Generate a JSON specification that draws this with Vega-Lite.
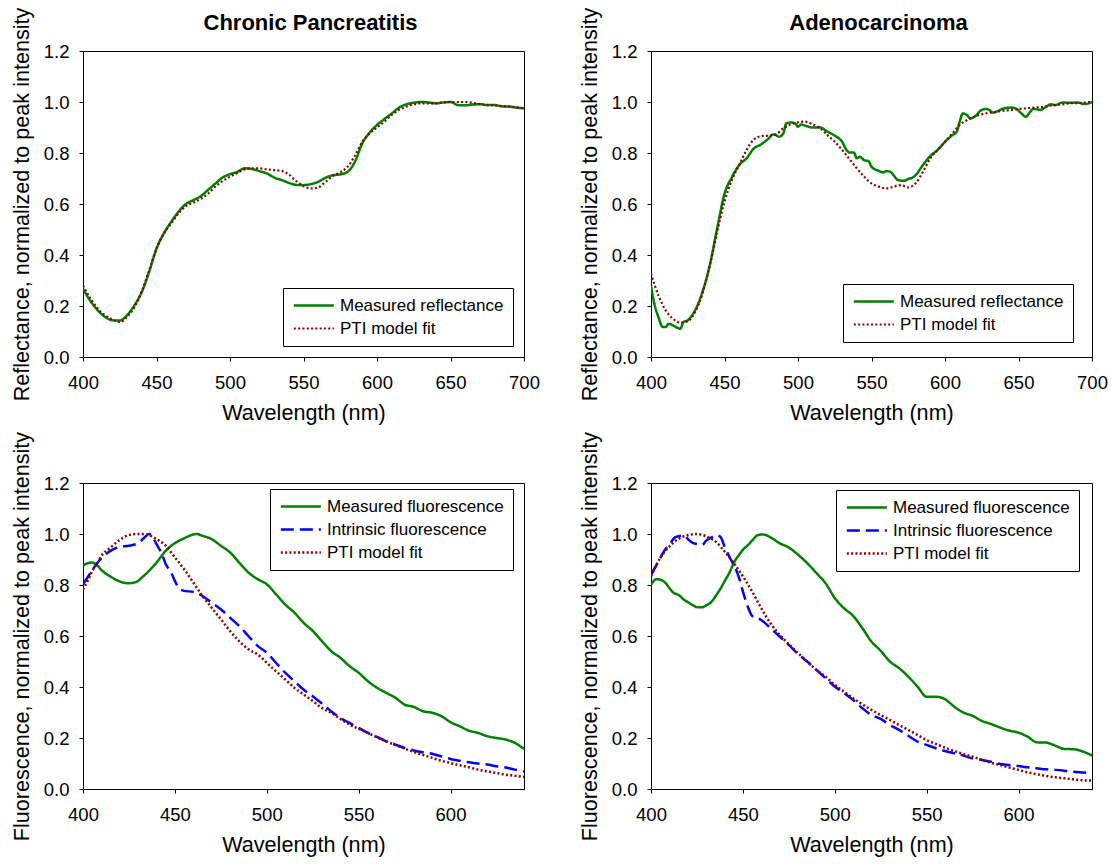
{
  "$schema": "https://vega.github.io/schema/vega-lite/v6.json",
  "padding": {"left": 10, "top": 6, "right": 0, "bottom": 3},
  "background": "white",
  "config": {
    "font": "Liberation Sans",
    "view": {"stroke": "black", "strokeWidth": 1},
    "axis": {"grid": false, "domainColor": "black", "tickColor": "black", "tickSize": 4, "labelColor": "black", "labelFontSize": 18.5, "labelFont": "Liberation Sans", "titleFont": "Liberation Sans", "titleFontSize": 21.6, "titleFontWeight": "normal", "titleColor": "black", "labelFlush": false, "labelOverlap": false, "labelPadding": 12, "titlePadding": 11},
    "axisY": {"titlePadding": 10, "labelPadding": 10, "titleFontSize": 21.6},
    "title": {"fontSize": 22, "font": "Liberation Sans", "fontWeight": "bold", "color": "black", "offset": -28, "dx": 7, "frame": "group"},
    "legend": {"labelFont": "Liberation Sans", "labelFontSize": 17, "labelColor": "black", "labelLimit": 400, "strokeColor": "black", "fillColor": "white", "padding": 9, "symbolType": "M-1,0H5", "symbolSize": 178, "labelOffset": 31, "rowPadding": 5}
  },
  "datasets": {
    "cpR": [
      {"s":"M","w":400,"v":0.268},{"s":"M","w":405,"v":0.22},{"s":"M","w":410,"v":0.183},{"s":"M","w":415,"v":0.157},{"s":"M","w":420,"v":0.144},{"s":"M","w":425,"v":0.143},{"s":"M","w":430,"v":0.164},{"s":"M","w":435,"v":0.203},{"s":"M","w":440,"v":0.255},{"s":"M","w":445,"v":0.334},{"s":"M","w":450,"v":0.425},{"s":"M","w":455,"v":0.485},{"s":"M","w":460,"v":0.53},{"s":"M","w":465,"v":0.57},{"s":"M","w":470,"v":0.6},{"s":"M","w":475,"v":0.615},{"s":"M","w":480,"v":0.63},{"s":"M","w":485,"v":0.655},{"s":"M","w":490,"v":0.68},{"s":"M","w":495,"v":0.704},{"s":"M","w":500,"v":0.717},{"s":"M","w":505,"v":0.726},{"s":"M","w":510,"v":0.74},{"s":"M","w":515,"v":0.737},{"s":"M","w":520,"v":0.729},{"s":"M","w":525,"v":0.72},{"s":"M","w":530,"v":0.704},{"s":"M","w":535,"v":0.694},{"s":"M","w":540,"v":0.683},{"s":"M","w":545,"v":0.675},{"s":"M","w":550,"v":0.674},{"s":"M","w":555,"v":0.678},{"s":"M","w":560,"v":0.687},{"s":"M","w":565,"v":0.703},{"s":"M","w":570,"v":0.713},{"s":"M","w":575,"v":0.716},{"s":"M","w":580,"v":0.726},{"s":"M","w":585,"v":0.766},{"s":"M","w":590,"v":0.838},{"s":"M","w":595,"v":0.88},{"s":"M","w":600,"v":0.91},{"s":"M","w":605,"v":0.933},{"s":"M","w":610,"v":0.955},{"s":"M","w":615,"v":0.978},{"s":"M","w":620,"v":0.991},{"s":"M","w":625,"v":0.997},{"s":"M","w":630,"v":1.0},{"s":"M","w":635,"v":0.998},{"s":"M","w":640,"v":0.995},{"s":"M","w":645,"v":0.998},{"s":"M","w":650,"v":1.0},{"s":"M","w":655,"v":0.988},{"s":"M","w":660,"v":0.987},{"s":"M","w":665,"v":0.99},{"s":"M","w":670,"v":0.991},{"s":"M","w":675,"v":0.988},{"s":"M","w":680,"v":0.988},{"s":"M","w":685,"v":0.983},{"s":"M","w":690,"v":0.982},{"s":"M","w":695,"v":0.978},{"s":"M","w":700,"v":0.975},
      {"s":"P","w":400,"v":0.28},{"s":"P","w":405,"v":0.23},{"s":"P","w":410,"v":0.19},{"s":"P","w":415,"v":0.164},{"s":"P","w":420,"v":0.148},{"s":"P","w":425,"v":0.137},{"s":"P","w":430,"v":0.157},{"s":"P","w":435,"v":0.196},{"s":"P","w":440,"v":0.258},{"s":"P","w":445,"v":0.34},{"s":"P","w":450,"v":0.425},{"s":"P","w":455,"v":0.484},{"s":"P","w":460,"v":0.524},{"s":"P","w":465,"v":0.563},{"s":"P","w":470,"v":0.592},{"s":"P","w":475,"v":0.605},{"s":"P","w":480,"v":0.62},{"s":"P","w":485,"v":0.64},{"s":"P","w":490,"v":0.668},{"s":"P","w":495,"v":0.69},{"s":"P","w":500,"v":0.707},{"s":"P","w":505,"v":0.722},{"s":"P","w":510,"v":0.736},{"s":"P","w":515,"v":0.74},{"s":"P","w":520,"v":0.74},{"s":"P","w":525,"v":0.736},{"s":"P","w":530,"v":0.733},{"s":"P","w":535,"v":0.73},{"s":"P","w":540,"v":0.716},{"s":"P","w":545,"v":0.69},{"s":"P","w":550,"v":0.67},{"s":"P","w":555,"v":0.661},{"s":"P","w":560,"v":0.665},{"s":"P","w":565,"v":0.687},{"s":"P","w":570,"v":0.71},{"s":"P","w":575,"v":0.724},{"s":"P","w":580,"v":0.746},{"s":"P","w":585,"v":0.79},{"s":"P","w":590,"v":0.844},{"s":"P","w":595,"v":0.877},{"s":"P","w":600,"v":0.9},{"s":"P","w":605,"v":0.923},{"s":"P","w":610,"v":0.949},{"s":"P","w":615,"v":0.969},{"s":"P","w":620,"v":0.982},{"s":"P","w":625,"v":0.991},{"s":"P","w":630,"v":0.995},{"s":"P","w":635,"v":0.995},{"s":"P","w":640,"v":0.995},{"s":"P","w":645,"v":0.998},{"s":"P","w":650,"v":1.0},{"s":"P","w":655,"v":1.0},{"s":"P","w":660,"v":1.0},{"s":"P","w":665,"v":0.997},{"s":"P","w":670,"v":0.992},{"s":"P","w":675,"v":0.988},{"s":"P","w":680,"v":0.987},{"s":"P","w":685,"v":0.984},{"s":"P","w":690,"v":0.982},{"s":"P","w":695,"v":0.979},{"s":"P","w":700,"v":0.975}
    ],
    "adR": [
      {"s":"M","w":400,"v":0.28},{"s":"M","w":402,"v":0.216},{"s":"M","w":405,"v":0.157},{"s":"M","w":408,"v":0.118},{"s":"M","w":410,"v":0.118},{"s":"M","w":412,"v":0.13},{"s":"M","w":415,"v":0.124},{"s":"M","w":418,"v":0.114},{"s":"M","w":420,"v":0.111},{"s":"M","w":422,"v":0.137},{"s":"M","w":425,"v":0.144},{"s":"M","w":428,"v":0.164},{"s":"M","w":430,"v":0.183},{"s":"M","w":435,"v":0.255},{"s":"M","w":440,"v":0.36},{"s":"M","w":445,"v":0.504},{"s":"M","w":450,"v":0.64},{"s":"M","w":455,"v":0.705},{"s":"M","w":460,"v":0.753},{"s":"M","w":465,"v":0.779},{"s":"M","w":470,"v":0.818},{"s":"M","w":475,"v":0.834},{"s":"M","w":480,"v":0.857},{"s":"M","w":483,"v":0.873},{"s":"M","w":485,"v":0.87},{"s":"M","w":487,"v":0.864},{"s":"M","w":490,"v":0.877},{"s":"M","w":492,"v":0.916},{"s":"M","w":495,"v":0.92},{"s":"M","w":498,"v":0.916},{"s":"M","w":500,"v":0.903},{"s":"M","w":502,"v":0.912},{"s":"M","w":505,"v":0.907},{"s":"M","w":510,"v":0.9},{"s":"M","w":515,"v":0.9},{"s":"M","w":520,"v":0.884},{"s":"M","w":525,"v":0.868},{"s":"M","w":530,"v":0.844},{"s":"M","w":533,"v":0.812},{"s":"M","w":535,"v":0.802},{"s":"M","w":538,"v":0.802},{"s":"M","w":540,"v":0.779},{"s":"M","w":542,"v":0.785},{"s":"M","w":545,"v":0.772},{"s":"M","w":548,"v":0.768},{"s":"M","w":550,"v":0.746},{"s":"M","w":555,"v":0.73},{"s":"M","w":558,"v":0.724},{"s":"M","w":560,"v":0.729},{"s":"M","w":563,"v":0.726},{"s":"M","w":565,"v":0.713},{"s":"M","w":568,"v":0.694},{"s":"M","w":572,"v":0.691},{"s":"M","w":575,"v":0.698},{"s":"M","w":578,"v":0.704},{"s":"M","w":580,"v":0.713},{"s":"M","w":585,"v":0.753},{"s":"M","w":590,"v":0.788},{"s":"M","w":595,"v":0.812},{"s":"M","w":600,"v":0.844},{"s":"M","w":605,"v":0.87},{"s":"M","w":608,"v":0.884},{"s":"M","w":610,"v":0.923},{"s":"M","w":612,"v":0.955},{"s":"M","w":615,"v":0.949},{"s":"M","w":617,"v":0.936},{"s":"M","w":620,"v":0.942},{"s":"M","w":625,"v":0.969},{"s":"M","w":628,"v":0.973},{"s":"M","w":630,"v":0.969},{"s":"M","w":633,"v":0.958},{"s":"M","w":635,"v":0.962},{"s":"M","w":640,"v":0.975},{"s":"M","w":645,"v":0.978},{"s":"M","w":648,"v":0.975},{"s":"M","w":652,"v":0.955},{"s":"M","w":655,"v":0.942},{"s":"M","w":658,"v":0.962},{"s":"M","w":660,"v":0.973},{"s":"M","w":665,"v":0.969},{"s":"M","w":668,"v":0.978},{"s":"M","w":672,"v":0.991},{"s":"M","w":675,"v":0.988},{"s":"M","w":680,"v":0.998},{"s":"M","w":685,"v":0.997},{"s":"M","w":690,"v":0.998},{"s":"M","w":695,"v":0.992},{"s":"M","w":700,"v":1.0},
      {"s":"P","w":400,"v":0.327},{"s":"P","w":405,"v":0.242},{"s":"P","w":410,"v":0.183},{"s":"P","w":415,"v":0.15},{"s":"P","w":420,"v":0.135},{"s":"P","w":425,"v":0.14},{"s":"P","w":430,"v":0.177},{"s":"P","w":435,"v":0.249},{"s":"P","w":440,"v":0.36},{"s":"P","w":445,"v":0.491},{"s":"P","w":450,"v":0.609},{"s":"P","w":455,"v":0.694},{"s":"P","w":460,"v":0.753},{"s":"P","w":465,"v":0.812},{"s":"P","w":470,"v":0.853},{"s":"P","w":475,"v":0.866},{"s":"P","w":480,"v":0.868},{"s":"P","w":485,"v":0.873},{"s":"P","w":490,"v":0.897},{"s":"P","w":495,"v":0.912},{"s":"P","w":500,"v":0.92},{"s":"P","w":505,"v":0.923},{"s":"P","w":510,"v":0.912},{"s":"P","w":515,"v":0.897},{"s":"P","w":520,"v":0.87},{"s":"P","w":525,"v":0.844},{"s":"P","w":530,"v":0.812},{"s":"P","w":535,"v":0.776},{"s":"P","w":540,"v":0.74},{"s":"P","w":545,"v":0.707},{"s":"P","w":550,"v":0.681},{"s":"P","w":555,"v":0.668},{"s":"P","w":560,"v":0.661},{"s":"P","w":565,"v":0.668},{"s":"P","w":570,"v":0.674},{"s":"P","w":575,"v":0.665},{"s":"P","w":580,"v":0.681},{"s":"P","w":585,"v":0.726},{"s":"P","w":590,"v":0.779},{"s":"P","w":595,"v":0.812},{"s":"P","w":600,"v":0.844},{"s":"P","w":605,"v":0.877},{"s":"P","w":610,"v":0.91},{"s":"P","w":615,"v":0.929},{"s":"P","w":620,"v":0.942},{"s":"P","w":625,"v":0.952},{"s":"P","w":630,"v":0.958},{"s":"P","w":635,"v":0.962},{"s":"P","w":640,"v":0.966},{"s":"P","w":645,"v":0.969},{"s":"P","w":650,"v":0.973},{"s":"P","w":655,"v":0.975},{"s":"P","w":660,"v":0.978},{"s":"P","w":665,"v":0.98},{"s":"P","w":670,"v":0.984},{"s":"P","w":675,"v":0.988},{"s":"P","w":680,"v":0.991},{"s":"P","w":685,"v":0.995},{"s":"P","w":690,"v":0.996},{"s":"P","w":695,"v":0.998},{"s":"P","w":700,"v":1.0}
    ],
    "cpF": [
      {"s":"M","w":400,"v":0.875},{"s":"M","w":402,"v":0.884},{"s":"M","w":405,"v":0.888},{"s":"M","w":408,"v":0.875},{"s":"M","w":410,"v":0.859},{"s":"M","w":415,"v":0.833},{"s":"M","w":420,"v":0.814},{"s":"M","w":423,"v":0.808},{"s":"M","w":425,"v":0.807},{"s":"M","w":428,"v":0.81},{"s":"M","w":430,"v":0.816},{"s":"M","w":432,"v":0.829},{"s":"M","w":435,"v":0.849},{"s":"M","w":440,"v":0.888},{"s":"M","w":445,"v":0.934},{"s":"M","w":450,"v":0.964},{"s":"M","w":455,"v":0.983},{"s":"M","w":460,"v":0.998},{"s":"M","w":462,"v":1.0},{"s":"M","w":465,"v":0.993},{"s":"M","w":470,"v":0.98},{"s":"M","w":475,"v":0.954},{"s":"M","w":480,"v":0.928},{"s":"M","w":485,"v":0.888},{"s":"M","w":490,"v":0.849},{"s":"M","w":495,"v":0.823},{"s":"M","w":500,"v":0.803},{"s":"M","w":505,"v":0.764},{"s":"M","w":510,"v":0.724},{"s":"M","w":515,"v":0.692},{"s":"M","w":520,"v":0.652},{"s":"M","w":525,"v":0.62},{"s":"M","w":530,"v":0.58},{"s":"M","w":535,"v":0.541},{"s":"M","w":540,"v":0.515},{"s":"M","w":545,"v":0.482},{"s":"M","w":550,"v":0.456},{"s":"M","w":555,"v":0.423},{"s":"M","w":560,"v":0.397},{"s":"M","w":565,"v":0.377},{"s":"M","w":570,"v":0.358},{"s":"M","w":575,"v":0.331},{"s":"M","w":580,"v":0.322},{"s":"M","w":585,"v":0.305},{"s":"M","w":590,"v":0.299},{"s":"M","w":595,"v":0.286},{"s":"M","w":600,"v":0.262},{"s":"M","w":605,"v":0.246},{"s":"M","w":610,"v":0.229},{"s":"M","w":615,"v":0.22},{"s":"M","w":620,"v":0.207},{"s":"M","w":625,"v":0.2},{"s":"M","w":630,"v":0.194},{"s":"M","w":635,"v":0.181},{"s":"M","w":640,"v":0.157},
      {"s":"I","w":400,"v":0.803},{"s":"I","w":403,"v":0.836},{"s":"I","w":405,"v":0.858},{"s":"I","w":408,"v":0.888},{"s":"I","w":410,"v":0.905},{"s":"I","w":415,"v":0.934},{"s":"I","w":420,"v":0.95},{"s":"I","w":425,"v":0.954},{"s":"I","w":430,"v":0.964},{"s":"I","w":433,"v":0.983},{"s":"I","w":436,"v":1.0},{"s":"I","w":438,"v":0.986},{"s":"I","w":440,"v":0.96},{"s":"I","w":443,"v":0.921},{"s":"I","w":445,"v":0.882},{"s":"I","w":448,"v":0.849},{"s":"I","w":450,"v":0.816},{"s":"I","w":452,"v":0.79},{"s":"I","w":455,"v":0.777},{"s":"I","w":460,"v":0.773},{"s":"I","w":465,"v":0.757},{"s":"I","w":470,"v":0.731},{"s":"I","w":475,"v":0.705},{"s":"I","w":480,"v":0.672},{"s":"I","w":485,"v":0.639},{"s":"I","w":490,"v":0.6},{"s":"I","w":495,"v":0.561},{"s":"I","w":500,"v":0.535},{"s":"I","w":505,"v":0.495},{"s":"I","w":510,"v":0.456},{"s":"I","w":515,"v":0.423},{"s":"I","w":520,"v":0.39},{"s":"I","w":525,"v":0.364},{"s":"I","w":530,"v":0.335},{"s":"I","w":535,"v":0.305},{"s":"I","w":540,"v":0.279},{"s":"I","w":545,"v":0.259},{"s":"I","w":550,"v":0.24},{"s":"I","w":555,"v":0.22},{"s":"I","w":560,"v":0.204},{"s":"I","w":565,"v":0.187},{"s":"I","w":570,"v":0.174},{"s":"I","w":575,"v":0.161},{"s":"I","w":580,"v":0.151},{"s":"I","w":585,"v":0.144},{"s":"I","w":590,"v":0.138},{"s":"I","w":595,"v":0.128},{"s":"I","w":600,"v":0.118},{"s":"I","w":605,"v":0.111},{"s":"I","w":610,"v":0.105},{"s":"I","w":615,"v":0.1},{"s":"I","w":620,"v":0.096},{"s":"I","w":625,"v":0.089},{"s":"I","w":630,"v":0.084},{"s":"I","w":635,"v":0.076},{"s":"I","w":640,"v":0.069},
      {"s":"P","w":400,"v":0.783},{"s":"P","w":403,"v":0.823},{"s":"P","w":405,"v":0.855},{"s":"P","w":408,"v":0.888},{"s":"P","w":410,"v":0.914},{"s":"P","w":415,"v":0.947},{"s":"P","w":420,"v":0.977},{"s":"P","w":425,"v":0.996},{"s":"P","w":430,"v":1.0},{"s":"P","w":435,"v":0.997},{"s":"P","w":440,"v":0.98},{"s":"P","w":445,"v":0.954},{"s":"P","w":450,"v":0.908},{"s":"P","w":455,"v":0.862},{"s":"P","w":460,"v":0.81},{"s":"P","w":465,"v":0.757},{"s":"P","w":470,"v":0.711},{"s":"P","w":475,"v":0.666},{"s":"P","w":480,"v":0.62},{"s":"P","w":485,"v":0.58},{"s":"P","w":490,"v":0.548},{"s":"P","w":495,"v":0.528},{"s":"P","w":500,"v":0.495},{"s":"P","w":505,"v":0.462},{"s":"P","w":510,"v":0.43},{"s":"P","w":515,"v":0.397},{"s":"P","w":520,"v":0.371},{"s":"P","w":525,"v":0.345},{"s":"P","w":530,"v":0.318},{"s":"P","w":535,"v":0.299},{"s":"P","w":540,"v":0.275},{"s":"P","w":545,"v":0.253},{"s":"P","w":550,"v":0.236},{"s":"P","w":555,"v":0.22},{"s":"P","w":560,"v":0.203},{"s":"P","w":565,"v":0.187},{"s":"P","w":570,"v":0.172},{"s":"P","w":575,"v":0.159},{"s":"P","w":580,"v":0.145},{"s":"P","w":585,"v":0.134},{"s":"P","w":590,"v":0.122},{"s":"P","w":595,"v":0.111},{"s":"P","w":600,"v":0.102},{"s":"P","w":605,"v":0.093},{"s":"P","w":610,"v":0.085},{"s":"P","w":615,"v":0.076},{"s":"P","w":620,"v":0.069},{"s":"P","w":625,"v":0.063},{"s":"P","w":630,"v":0.056},{"s":"P","w":635,"v":0.052},{"s":"P","w":640,"v":0.047}
    ],
    "adF": [
      {"s":"M","w":400,"v":0.801},{"s":"M","w":403,"v":0.823},{"s":"M","w":405,"v":0.821},{"s":"M","w":408,"v":0.807},{"s":"M","w":410,"v":0.788},{"s":"M","w":412,"v":0.771},{"s":"M","w":415,"v":0.761},{"s":"M","w":418,"v":0.742},{"s":"M","w":420,"v":0.733},{"s":"M","w":423,"v":0.72},{"s":"M","w":425,"v":0.713},{"s":"M","w":428,"v":0.713},{"s":"M","w":430,"v":0.72},{"s":"M","w":433,"v":0.735},{"s":"M","w":435,"v":0.755},{"s":"M","w":438,"v":0.788},{"s":"M","w":440,"v":0.814},{"s":"M","w":443,"v":0.853},{"s":"M","w":445,"v":0.886},{"s":"M","w":448,"v":0.919},{"s":"M","w":450,"v":0.938},{"s":"M","w":453,"v":0.958},{"s":"M","w":455,"v":0.974},{"s":"M","w":458,"v":0.995},{"s":"M","w":460,"v":0.998},{"s":"M","w":462,"v":0.997},{"s":"M","w":465,"v":0.987},{"s":"M","w":470,"v":0.964},{"s":"M","w":475,"v":0.947},{"s":"M","w":480,"v":0.919},{"s":"M","w":485,"v":0.886},{"s":"M","w":490,"v":0.847},{"s":"M","w":495,"v":0.807},{"s":"M","w":500,"v":0.749},{"s":"M","w":505,"v":0.709},{"s":"M","w":510,"v":0.679},{"s":"M","w":515,"v":0.631},{"s":"M","w":520,"v":0.578},{"s":"M","w":525,"v":0.542},{"s":"M","w":530,"v":0.5},{"s":"M","w":535,"v":0.474},{"s":"M","w":540,"v":0.441},{"s":"M","w":545,"v":0.402},{"s":"M","w":550,"v":0.362},{"s":"M","w":555,"v":0.362},{"s":"M","w":560,"v":0.352},{"s":"M","w":565,"v":0.323},{"s":"M","w":570,"v":0.3},{"s":"M","w":575,"v":0.287},{"s":"M","w":580,"v":0.267},{"s":"M","w":585,"v":0.255},{"s":"M","w":590,"v":0.241},{"s":"M","w":595,"v":0.229},{"s":"M","w":600,"v":0.221},{"s":"M","w":605,"v":0.205},{"s":"M","w":610,"v":0.183},{"s":"M","w":615,"v":0.182},{"s":"M","w":620,"v":0.17},{"s":"M","w":625,"v":0.157},{"s":"M","w":630,"v":0.156},{"s":"M","w":635,"v":0.147},{"s":"M","w":640,"v":0.131},
      {"s":"I","w":400,"v":0.84},{"s":"I","w":403,"v":0.879},{"s":"I","w":405,"v":0.906},{"s":"I","w":408,"v":0.942},{"s":"I","w":410,"v":0.958},{"s":"I","w":413,"v":0.987},{"s":"I","w":415,"v":0.991},{"s":"I","w":418,"v":0.995},{"s":"I","w":420,"v":0.981},{"s":"I","w":423,"v":0.964},{"s":"I","w":425,"v":0.961},{"s":"I","w":428,"v":0.958},{"s":"I","w":430,"v":0.974},{"s":"I","w":433,"v":0.987},{"s":"I","w":436,"v":0.995},{"s":"I","w":438,"v":0.987},{"s":"I","w":440,"v":0.951},{"s":"I","w":443,"v":0.906},{"s":"I","w":445,"v":0.879},{"s":"I","w":448,"v":0.827},{"s":"I","w":450,"v":0.775},{"s":"I","w":453,"v":0.709},{"s":"I","w":455,"v":0.679},{"s":"I","w":460,"v":0.663},{"s":"I","w":465,"v":0.631},{"s":"I","w":470,"v":0.598},{"s":"I","w":475,"v":0.565},{"s":"I","w":480,"v":0.529},{"s":"I","w":485,"v":0.5},{"s":"I","w":490,"v":0.467},{"s":"I","w":495,"v":0.434},{"s":"I","w":500,"v":0.402},{"s":"I","w":505,"v":0.376},{"s":"I","w":510,"v":0.349},{"s":"I","w":515,"v":0.317},{"s":"I","w":520,"v":0.29},{"s":"I","w":525,"v":0.275},{"s":"I","w":530,"v":0.251},{"s":"I","w":535,"v":0.232},{"s":"I","w":540,"v":0.209},{"s":"I","w":545,"v":0.186},{"s":"I","w":550,"v":0.173},{"s":"I","w":555,"v":0.16},{"s":"I","w":560,"v":0.149},{"s":"I","w":565,"v":0.14},{"s":"I","w":570,"v":0.131},{"s":"I","w":575,"v":0.12},{"s":"I","w":580,"v":0.114},{"s":"I","w":585,"v":0.107},{"s":"I","w":590,"v":0.098},{"s":"I","w":595,"v":0.094},{"s":"I","w":600,"v":0.09},{"s":"I","w":605,"v":0.085},{"s":"I","w":610,"v":0.081},{"s":"I","w":615,"v":0.077},{"s":"I","w":620,"v":0.075},{"s":"I","w":625,"v":0.072},{"s":"I","w":630,"v":0.068},{"s":"I","w":635,"v":0.065},{"s":"I","w":640,"v":0.062},
      {"s":"P","w":400,"v":0.834},{"s":"P","w":405,"v":0.906},{"s":"P","w":410,"v":0.951},{"s":"P","w":415,"v":0.981},{"s":"P","w":420,"v":0.995},{"s":"P","w":425,"v":1.0},{"s":"P","w":430,"v":0.991},{"s":"P","w":435,"v":0.971},{"s":"P","w":440,"v":0.932},{"s":"P","w":445,"v":0.886},{"s":"P","w":450,"v":0.834},{"s":"P","w":455,"v":0.775},{"s":"P","w":460,"v":0.709},{"s":"P","w":465,"v":0.65},{"s":"P","w":470,"v":0.605},{"s":"P","w":475,"v":0.568},{"s":"P","w":480,"v":0.533},{"s":"P","w":485,"v":0.5},{"s":"P","w":490,"v":0.467},{"s":"P","w":495,"v":0.441},{"s":"P","w":500,"v":0.408},{"s":"P","w":505,"v":0.382},{"s":"P","w":510,"v":0.356},{"s":"P","w":515,"v":0.332},{"s":"P","w":520,"v":0.31},{"s":"P","w":525,"v":0.29},{"s":"P","w":530,"v":0.271},{"s":"P","w":535,"v":0.251},{"s":"P","w":540,"v":0.232},{"s":"P","w":545,"v":0.212},{"s":"P","w":550,"v":0.192},{"s":"P","w":555,"v":0.177},{"s":"P","w":560,"v":0.162},{"s":"P","w":565,"v":0.149},{"s":"P","w":570,"v":0.137},{"s":"P","w":575,"v":0.127},{"s":"P","w":580,"v":0.114},{"s":"P","w":585,"v":0.103},{"s":"P","w":590,"v":0.094},{"s":"P","w":595,"v":0.084},{"s":"P","w":600,"v":0.075},{"s":"P","w":605,"v":0.065},{"s":"P","w":610,"v":0.058},{"s":"P","w":615,"v":0.051},{"s":"P","w":620,"v":0.046},{"s":"P","w":625,"v":0.042},{"s":"P","w":630,"v":0.038},{"s":"P","w":635,"v":0.034},{"s":"P","w":640,"v":0.033}
    ]
  },
  "columns": 2,
  "spacing": {"row": 126, "column": 127},
  "bounds": "flush",
  "resolve": {"scale": {"color": "independent", "strokeDash": "independent", "strokeWidth": "independent", "x": "independent", "y": "independent"}, "legend": {"color": "independent", "strokeDash": "independent", "strokeWidth": "independent"}},
  "concat": [
    {
      "width": 441, "height": 306,
      "title": "Chronic Pancreatitis",
      "data": {"name": "cpR"},
      "mark": {"type": "line", "interpolate": "monotone", "clip": true},
      "encoding": {
        "x": {"field": "w", "type": "quantitative", "scale": {"domain": [400, 700], "nice": false, "zero": false}, "axis": {"values": [400, 450, 500, 550, 600, 650, 700], "title": "Wavelength (nm)"}},
        "y": {"field": "v", "type": "quantitative", "scale": {"domain": [0, 1.2], "nice": false}, "axis": {"values": [0, 0.2, 0.4, 0.6, 0.8, 1.0, 1.2], "format": ".1f", "title": "Reflectance, normalized to peak intensity"}},
        "color": {"field": "s", "type": "nominal", "sort": null, "scale": {"domain": ["M", "P"], "range": ["#008000", "#8B0000"]}, "legend": {"title": null, "orient": "none", "legendX": 200, "legendY": 237, "labelExpr": "datum.label == 'M' ? 'Measured reflectance' : 'PTI model fit'"}},
        "strokeDash": {"field": "s", "type": "nominal", "sort": null, "scale": {"domain": ["M", "P"], "range": [[1, 0], [2, 2.3]]}, "legend": {"title": null, "orient": "none", "legendX": 200, "legendY": 237, "labelExpr": "datum.label == 'M' ? 'Measured reflectance' : 'PTI model fit'"}},
        "strokeWidth": {"field": "s", "type": "nominal", "sort": null, "scale": {"domain": ["M", "P"], "range": [2.5, 2.2]}, "legend": {"title": null, "orient": "none", "legendX": 200, "legendY": 237, "labelExpr": "datum.label == 'M' ? 'Measured reflectance' : 'PTI model fit'"}}
      }
    },
    {
      "width": 441, "height": 306,
      "title": "Adenocarcinoma",
      "data": {"name": "adR"},
      "mark": {"type": "line", "interpolate": "monotone", "clip": true},
      "encoding": {
        "x": {"field": "w", "type": "quantitative", "scale": {"domain": [400, 700], "nice": false, "zero": false}, "axis": {"values": [400, 450, 500, 550, 600, 650, 700], "title": "Wavelength (nm)"}},
        "y": {"field": "v", "type": "quantitative", "scale": {"domain": [0, 1.2], "nice": false}, "axis": {"values": [0, 0.2, 0.4, 0.6, 0.8, 1.0, 1.2], "format": ".1f", "title": "Reflectance, normalized to peak intensity"}},
        "color": {"field": "s", "type": "nominal", "sort": null, "scale": {"domain": ["M", "P"], "range": ["#008000", "#8B0000"]}, "legend": {"title": null, "orient": "none", "legendX": 192, "legendY": 233, "labelExpr": "datum.label == 'M' ? 'Measured reflectance' : 'PTI model fit'"}},
        "strokeDash": {"field": "s", "type": "nominal", "sort": null, "scale": {"domain": ["M", "P"], "range": [[1, 0], [2, 2.3]]}, "legend": {"title": null, "orient": "none", "legendX": 192, "legendY": 233, "labelExpr": "datum.label == 'M' ? 'Measured reflectance' : 'PTI model fit'"}},
        "strokeWidth": {"field": "s", "type": "nominal", "sort": null, "scale": {"domain": ["M", "P"], "range": [2.5, 2.2]}, "legend": {"title": null, "orient": "none", "legendX": 192, "legendY": 233, "labelExpr": "datum.label == 'M' ? 'Measured reflectance' : 'PTI model fit'"}}
      }
    },
    {
      "width": 441, "height": 306,
      "data": {"name": "cpF"},
      "mark": {"type": "line", "interpolate": "monotone", "clip": true},
      "encoding": {
        "x": {"field": "w", "type": "quantitative", "scale": {"domain": [400, 640], "nice": false, "zero": false}, "axis": {"values": [400, 450, 500, 550, 600], "title": "Wavelength (nm)"}},
        "y": {"field": "v", "type": "quantitative", "scale": {"domain": [0, 1.2], "nice": false}, "axis": {"values": [0, 0.2, 0.4, 0.6, 0.8, 1.0, 1.2], "format": ".1f", "title": "Fluorescence, normalized to peak intensity"}},
        "color": {"field": "s", "type": "nominal", "sort": null, "scale": {"domain": ["M", "I", "P"], "range": ["#008000", "#0000FF", "#8B0000"]}, "legend": {"title": null, "orient": "none", "legendX": 187, "legendY": 6, "labelExpr": "datum.label == 'M' ? 'Measured fluorescence' : datum.label == 'I' ? 'Intrinsic fluorescence' : 'PTI model fit'"}},
        "strokeDash": {"field": "s", "type": "nominal", "sort": null, "scale": {"domain": ["M", "I", "P"], "range": [[1, 0], [13, 6], [2, 2.3]]}, "legend": {"title": null, "orient": "none", "legendX": 187, "legendY": 6, "labelExpr": "datum.label == 'M' ? 'Measured fluorescence' : datum.label == 'I' ? 'Intrinsic fluorescence' : 'PTI model fit'"}},
        "strokeWidth": {"field": "s", "type": "nominal", "sort": null, "scale": {"domain": ["M", "I", "P"], "range": [2.5, 2.5, 2.2]}, "legend": {"title": null, "orient": "none", "legendX": 187, "legendY": 6, "labelExpr": "datum.label == 'M' ? 'Measured fluorescence' : datum.label == 'I' ? 'Intrinsic fluorescence' : 'PTI model fit'"}}
      }
    },
    {
      "width": 441, "height": 306,
      "data": {"name": "adF"},
      "mark": {"type": "line", "interpolate": "monotone", "clip": true},
      "encoding": {
        "x": {"field": "w", "type": "quantitative", "scale": {"domain": [400, 640], "nice": false, "zero": false}, "axis": {"values": [400, 450, 500, 550, 600], "title": "Wavelength (nm)"}},
        "y": {"field": "v", "type": "quantitative", "scale": {"domain": [0, 1.2], "nice": false}, "axis": {"values": [0, 0.2, 0.4, 0.6, 0.8, 1.0, 1.2], "format": ".1f", "title": "Fluorescence, normalized to peak intensity"}},
        "color": {"field": "s", "type": "nominal", "sort": null, "scale": {"domain": ["M", "I", "P"], "range": ["#008000", "#0000FF", "#8B0000"]}, "legend": {"title": null, "orient": "none", "legendX": 185, "legendY": 7, "labelExpr": "datum.label == 'M' ? 'Measured fluorescence' : datum.label == 'I' ? 'Intrinsic fluorescence' : 'PTI model fit'"}},
        "strokeDash": {"field": "s", "type": "nominal", "sort": null, "scale": {"domain": ["M", "I", "P"], "range": [[1, 0], [13, 6], [2, 2.3]]}, "legend": {"title": null, "orient": "none", "legendX": 185, "legendY": 7, "labelExpr": "datum.label == 'M' ? 'Measured fluorescence' : datum.label == 'I' ? 'Intrinsic fluorescence' : 'PTI model fit'"}},
        "strokeWidth": {"field": "s", "type": "nominal", "sort": null, "scale": {"domain": ["M", "I", "P"], "range": [2.5, 2.5, 2.2]}, "legend": {"title": null, "orient": "none", "legendX": 185, "legendY": 7, "labelExpr": "datum.label == 'M' ? 'Measured fluorescence' : datum.label == 'I' ? 'Intrinsic fluorescence' : 'PTI model fit'"}}
      }
    }
  ]
}
